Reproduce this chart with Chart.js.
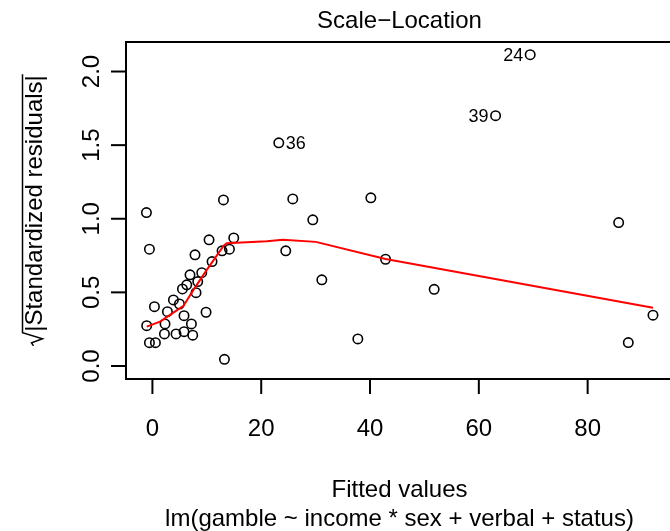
<!DOCTYPE html>
<html>
<head>
<meta charset="utf-8">
<script src="https://cdn.jsdelivr.net/npm/chart.js@4.4.1/dist/chart.umd.min.js"></script>
<style>
  html, body { margin: 0; padding: 0; background: #fff; overflow: hidden; }
  #wrap { width: 680px; height: 531px; }
</style>
</head>
<body>
<div id="wrap"><canvas id="chart" width="680" height="531"></canvas></div>
<script>
// fitted values and sqrt(|standardized residuals|)
const fittedValues = [
  69.44, 63.08, 23.23, 85.70, 42.85, 51.79, 92.01, 87.47,
  24.51, 25.80, 29.48, 31.14, 37.76, 40.15,
  -1.10, 13.06, -0.55, 10.41, 14.95, 7.83, 14.16, 12.80, 10.96, 9.07,
  6.91, 8.33, 6.31, 5.52, 8.02, 3.86, 4.97, 0.37, 2.76, 9.86,
  5.81, 7.17, 2.32, -1.05, 2.21, 4.34, 5.81, 7.41, -0.55, 0.55, 13.24
]
const sqrtStdResiduals = [
  2.114, 1.700, 1.516, 0.974, 0.725, 0.521, 0.345, 0.159,
  0.782, 1.135, 0.993, 0.585, 0.184, 1.142,
  1.042, 1.128, 0.793, 0.857, 0.870, 0.755, 0.793, 0.782, 0.709, 0.634,
  0.619, 0.573, 0.551, 0.523, 0.498, 0.449, 0.421, 0.403, 0.369, 0.365,
  0.342, 0.286, 0.286, 0.274, 0.218, 0.218, 0.233, 0.209, 0.158, 0.158, 0.045
]
const pointIds = ['24', '39', '36']   // labels of the first three points

// red smoother
const smoothX = [-1.05, 1.40, 3.24, 5.70, 7.54, 9.99, 13.06, 13.66, 21.02, 23.96, 30.03, 42.85, 92.01]
const smoothY = [0.267, 0.301, 0.347, 0.408, 0.517, 0.653, 0.816, 0.834, 0.848, 0.857, 0.843, 0.727, 0.396]

const xTicks = [0, 20, 40, 60, 80]
const yTicks = [0, 0.5, 1, 1.5, 2]
const yTickLabels = ['0.0', '0.5', '1.0', '1.5', '2.0']

const mainTitle = 'Scale\u2212Location'
const xTitle = 'Fitted values'
const subCaption = 'lm(gamble ~ income * sex + verbal + status)'
const yTitle = '|Standardized residuals|'

const FONT = '"Liberation Sans", Arial, Helvetica, sans-serif'

const rAxes = {
  id: 'rAxes',
  afterDatasetsDraw(chart) {
    const { ctx, chartArea: a, scales: { x, y } } = chart
    const cx = (a.left + a.right) / 2
    const cy = (a.top + a.bottom) / 2
    ctx.save()
    ctx.strokeStyle = '#000'
    ctx.fillStyle = '#000'
    ctx.lineWidth = 2

    // box
    ctx.strokeRect(a.left, a.top, a.right - a.left, a.bottom - a.top)

    // x axis ticks
    ctx.font = `24px ${FONT}`
    ctx.textAlign = 'center'
    ctx.textBaseline = 'alphabetic'
    xTicks.forEach(v => {
      const px = x.getPixelForValue(v)
      ctx.beginPath(); ctx.moveTo(px, a.bottom); ctx.lineTo(px, a.bottom + 15); ctx.stroke()
      ctx.fillText(String(v), px, 435.5)
    })

    // y axis ticks, labels turned like R's las = 0
    yTicks.forEach((v, i) => {
      const py = y.getPixelForValue(v)
      ctx.beginPath(); ctx.moveTo(a.left, py); ctx.lineTo(a.left - 15, py); ctx.stroke()
      ctx.save()
      ctx.translate(98.5, py)
      ctx.rotate(-Math.PI / 2)
      ctx.fillText(yTickLabels[i], 0, 0)
      ctx.restore()
    })

    // titles
    ctx.fillText(mainTitle, cx, 28)
    ctx.fillText(xTitle, cx, 496.5)
    ctx.fillText(subCaption, cx, 526)

    // y title with a radical sign
    ctx.save()
    ctx.translate(41.5, cy)
    ctx.rotate(-Math.PI / 2)
    const w = ctx.measureText(yTitle).width
    const rw = 14
    const x0 = -(w + rw) / 2
    ctx.lineWidth = 1.5
    ctx.beginPath()
    ctx.moveTo(x0, -8)
    ctx.lineTo(x0 + 3, -10)
    ctx.lineTo(x0 + 7, 1)
    ctx.lineTo(x0 + rw - 1, -19)
    ctx.lineTo(x0 + rw + w + 1, -19)
    ctx.stroke()
    ctx.textAlign = 'left'
    ctx.fillText(yTitle, x0 + rw, 0)
    ctx.restore()

    // point ids, left or right of the point like plot.lm
    ctx.font = `18px ${FONT}`
    ctx.textBaseline = 'middle'
    const meta = chart.getDatasetMeta(1)
    const mid = (x.min + x.max) / 2
    pointIds.forEach((id, i) => {
      const el = meta.data[i]
      if (fittedValues[i] > mid) {
        ctx.textAlign = 'right'
        ctx.fillText(id, el.x - 7, el.y + 1)
      } else {
        ctx.textAlign = 'left'
        ctx.fillText(id, el.x + 7, el.y + 1)
      }
    })
    ctx.restore()
  }
}

new Chart(document.getElementById('chart'), {
  type: 'scatter',
  data: {
    datasets: [
      {
        data: smoothX.map((v, i) => ({ x: v, y: smoothY[i] })),
        showLine: true,
        borderColor: '#ff0000',
        borderWidth: 2,
        pointRadius: 0,
        tension: 0,
        order: 0
      },
      {
        data: fittedValues.map((v, i) => ({ x: v, y: sqrtStdResiduals[i] })),
        pointRadius: 4.7,
        pointBorderWidth: 1.6,
        borderColor: '#000',
        backgroundColor: 'rgba(0,0,0,0)',
        order: 1
      }
    ]
  },
  options: {
    responsive: false,
    animation: false,
    devicePixelRatio: 1,
    layout: { padding: { left: 126, right: 7, top: 42, bottom: 152 } },
    plugins: { legend: { display: false }, tooltip: { enabled: false } },
    scales: {
      x: { type: 'linear', min: -4.855, max: 95.69, display: false },
      y: { type: 'linear', min: -0.0884, max: 2.2005, display: false }
    }
  },
  plugins: [rAxes]
})
</script>
</body>
</html>
